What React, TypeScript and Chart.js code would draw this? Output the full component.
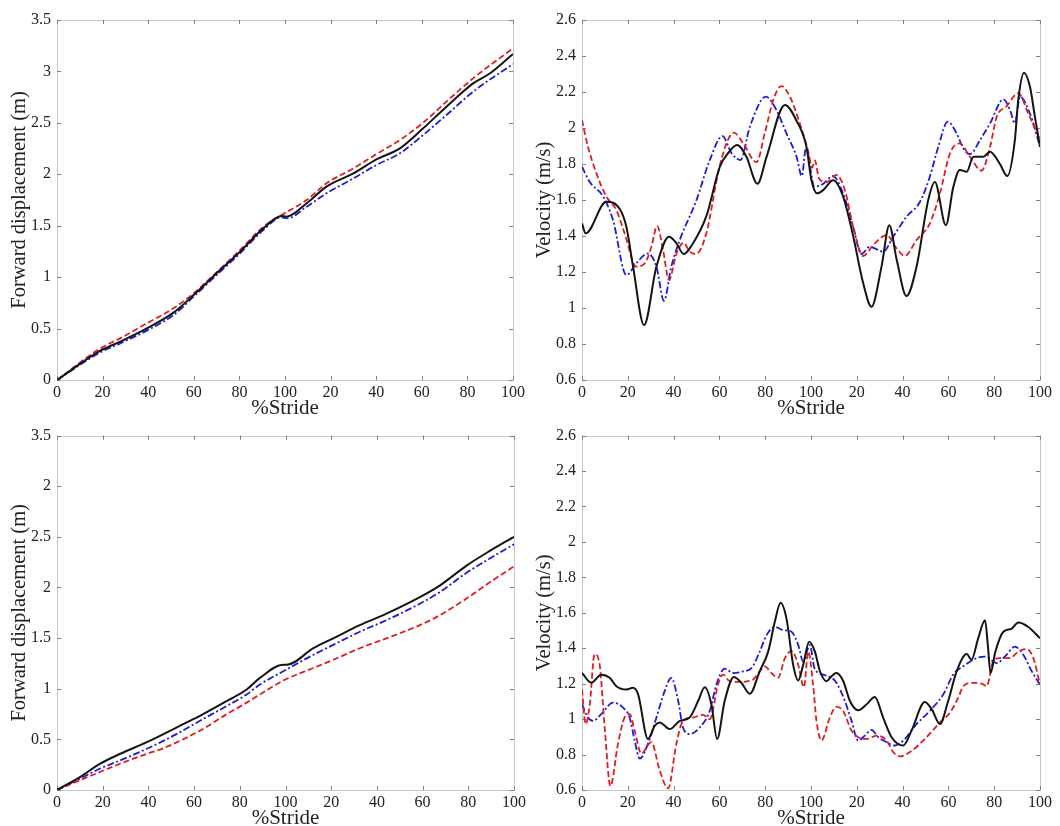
import React, { useEffect, useRef } from 'react';
import { Chart, registerables } from 'chart.js';

Chart.register(...registerables);

// ---------------- data ----------------
// x axis: two consecutive strides (0..200), labelled 0..100, 20..100
const X_MIN = 0;
const X_MAX = 200;
const X_STEP = 20;

const DISP_MIN = 0;
const DISP_MAX = 3.5;
const DISP_STEP = 0.5;
const DISP_TICKS_BOTTOM = ['0', '0.5', '1', '1.5', '2', '2.5', '2', '3.5'];

const VEL_MIN = 0.6;
const VEL_MAX = 2.6;
const VEL_STEP = 0.2;

// top-left: forward displacement
const dispTopBlackX = [0, 19, 27.7, 39.4, 51.1, 59.9, 70, 80.3, 90.5, 98.5, 100.7, 109.5, 118.2, 130, 140.1, 150.4, 160.6, 170.8, 182.5, 189.8, 200];
const dispTopBlackY = [0, 0.285, 0.373, 0.502, 0.655, 0.826, 1.037, 1.248, 1.475, 1.594, 1.588, 1.718, 1.88, 2.009, 2.145, 2.252, 2.447, 2.657, 2.884, 2.98, 3.17];
const dispTopRedX = [0, 19, 27.7, 39.4, 51.1, 59.9, 70, 80.3, 90.5, 98.5, 109.5, 118.2, 130, 140.1, 150.4, 160.6, 170.8, 182.5, 200];
const dispTopRedY = [0, 0.308, 0.405, 0.551, 0.697, 0.843, 1.047, 1.264, 1.49, 1.604, 1.75, 1.912, 2.058, 2.197, 2.333, 2.502, 2.706, 2.933, 3.225];
const dispTopBlueX = [0, 19, 27.7, 39.4, 51.1, 59.9, 70, 80.3, 90.5, 98.5, 101, 109.5, 118.2, 130, 140.1, 150.4, 160.6, 170.8, 182.5, 200];
const dispTopBlueY = [0, 0.269, 0.356, 0.48, 0.632, 0.81, 1.021, 1.232, 1.458, 1.581, 1.572, 1.685, 1.815, 1.96, 2.09, 2.204, 2.382, 2.576, 2.803, 3.072];

// top-right: velocity
const velTopBlackX = [0, 1.6, 10.6, 16.5, 19.4, 22.3, 27.1, 32.5, 38, 41.2, 44.4, 48.5, 54.3, 60.2, 63.8, 67.7, 71.8, 76.6, 80.6, 88.6, 93.7, 98, 100.2, 102.7, 105.3, 109.7, 114, 118.4, 122.8, 126.4, 130.8, 134.2, 137.4, 141.7, 146.1, 151.2, 154.1, 158.9, 162.1, 165, 168, 170.9, 175.2, 178.2, 182.5, 185.7, 189, 190.5, 193, 195.6, 197.8, 200];
const velTopBlackY = [1.47, 1.415, 1.59, 1.55, 1.45, 1.23, 0.905, 1.23, 1.396, 1.36, 1.3, 1.36, 1.51, 1.785, 1.86, 1.905, 1.84, 1.69, 1.84, 2.128, 2.04, 1.896, 1.71, 1.637, 1.655, 1.71, 1.62, 1.4, 1.137, 1.007, 1.23, 1.46, 1.27, 1.067, 1.23, 1.6, 1.7, 1.46, 1.67, 1.767, 1.757, 1.84, 1.84, 1.868, 1.8, 1.733, 1.93, 2.155, 2.307, 2.23, 2.06, 1.896];
const velTopRedX = [0, 2.6, 6.3, 10.6, 15, 18.6, 23.7, 27.4, 30.3, 32.8, 35.4, 38, 41.2, 44.4, 47, 49.7, 54.3, 59.4, 63.1, 66.3, 70.4, 76.2, 79.8, 83.5, 87.1, 90.8, 95.1, 98.8, 100.5, 101.7, 103.5, 106.8, 111.1, 114.8, 118.4, 122.8, 127.2, 133, 137.4, 141, 146.1, 151.9, 156.3, 160.7, 165, 169.4, 174.5, 178.2, 181.1, 185.4, 190.5, 194.9, 200];
const velTopRedY = [2.044, 1.896, 1.748, 1.62, 1.544, 1.415, 1.23, 1.248, 1.34, 1.456, 1.322, 1.155, 1.3, 1.363, 1.313, 1.3, 1.415, 1.748, 1.915, 1.974, 1.915, 1.81, 1.97, 2.155, 2.233, 2.174, 2.026, 1.87, 1.78, 1.82, 1.72, 1.7, 1.739, 1.655, 1.452, 1.289, 1.35, 1.405, 1.33, 1.289, 1.378, 1.47, 1.637, 1.859, 1.915, 1.84, 1.763, 1.896, 2.063, 2.12, 2.193, 2.08, 1.933];
const velTopBlueX = [0, 3.4, 9.2, 13.5, 19.4, 23.7, 28.8, 32.5, 35.8, 39, 42.7, 50, 55.8, 61.3, 65.3, 69.2, 73.3, 80.3, 84.9, 89.3, 93.7, 96, 97.8, 101.5, 105.4, 109.5, 114, 118.4, 122, 125.7, 129.4, 131.5, 135.9, 141.7, 147.6, 151.9, 155.6, 159.7, 163.6, 166.5, 169.4, 173.8, 178.2, 184, 186.9, 189, 191.3, 195.6, 200];
const velTopBlueY = [1.785, 1.7, 1.62, 1.49, 1.183, 1.248, 1.303, 1.23, 1.04, 1.23, 1.378, 1.6, 1.822, 1.955, 1.86, 1.822, 2.007, 2.174, 2.1, 1.97, 1.84, 1.733, 1.89, 1.674, 1.69, 1.733, 1.637, 1.452, 1.3, 1.34, 1.322, 1.313, 1.396, 1.507, 1.59, 1.73, 1.896, 2.035, 1.97, 1.887, 1.855, 1.933, 2.026, 2.159, 2.1, 2.026, 2.174, 2.08, 1.896];

// bottom-left: forward displacement
const dispBotBlackX = [0, 10.2, 18.9, 27.7, 39.3, 51, 56.8, 62.6, 74.3, 83, 88.8, 99, 100.5, 112.2, 120.9, 132.5, 144.2, 158.8, 167.5, 179.1, 189.4, 200];
const dispBotBlackY = [0, 0.13, 0.26, 0.358, 0.472, 0.602, 0.668, 0.733, 0.879, 0.993, 1.107, 1.237, 1.237, 1.4, 1.498, 1.628, 1.742, 1.905, 2.019, 2.214, 2.361, 2.501];
const dispBotRedX = [0, 10.2, 18.9, 27.7, 39.3, 46, 51, 62.6, 74.3, 83, 88.8, 99, 112.2, 120.9, 132.5, 144.2, 158.8, 167.5, 179.1, 189.4, 200];
const dispBotRedY = [0, 0.098, 0.179, 0.26, 0.358, 0.407, 0.456, 0.586, 0.749, 0.863, 0.944, 1.081, 1.205, 1.286, 1.4, 1.498, 1.628, 1.726, 1.889, 2.051, 2.208];
const dispBotBlueX = [0, 10.2, 18.9, 27.7, 39.3, 51, 62.6, 74.3, 83, 88.8, 99, 112.2, 120.9, 132.5, 144.2, 158.8, 167.5, 179.1, 189.4, 200];
const dispBotBlueY = [0, 0.114, 0.212, 0.293, 0.407, 0.537, 0.684, 0.83, 0.944, 1.042, 1.172, 1.335, 1.433, 1.563, 1.677, 1.84, 1.954, 2.143, 2.286, 2.426];

// bottom-right: velocity
const velBotBlackX = [0, 4.1, 8.4, 12.1, 15, 19.4, 22.3, 24.5, 28.8, 31.8, 33.9, 38.3, 42.7, 47, 50.7, 53.6, 56.5, 59, 62.3, 66.3, 69.6, 73.3, 77.6, 81.3, 84.2, 86.7, 89.3, 92.2, 94.4, 96.6, 99.2, 101.7, 103.9, 106.8, 109, 111.1, 114.1, 117, 120.6, 124.3, 127.9, 131.5, 135.2, 140.3, 143.9, 149.7, 152.7, 156.3, 159.9, 163.6, 168, 170.1, 173, 176, 177.2, 178.4, 180.5, 184, 187.6, 190.5, 194.9, 200];
const velBotBlackY = [1.26, 1.205, 1.251, 1.233, 1.186, 1.167, 1.177, 1.14, 0.888, 0.963, 0.981, 0.944, 0.99, 1.009, 1.102, 1.18, 1.084, 0.888, 1.102, 1.238, 1.205, 1.143, 1.27, 1.381, 1.549, 1.657, 1.567, 1.307, 1.218, 1.307, 1.437, 1.381, 1.27, 1.214, 1.242, 1.26, 1.214, 1.102, 1.05, 1.084, 1.125, 1.009, 0.898, 0.851, 0.935, 1.097, 1.056, 0.972, 1.102, 1.27, 1.367, 1.335, 1.456, 1.558, 1.42, 1.26, 1.38, 1.493, 1.51, 1.545, 1.52, 1.456];
const velBotRedX = [0, 1.6, 3.4, 5.5, 7.7, 9.9, 12.4, 15.7, 18.6, 20.8, 23, 25.9, 30.3, 33.9, 37.6, 41.2, 44.1, 48.5, 52.9, 55.8, 59.4, 61.6, 64.5, 68.9, 74.7, 77.6, 79.8, 82.7, 85.6, 88.6, 91.5, 94.4, 96.9, 98.8, 100.9, 102.4, 104.6, 108.2, 111.1, 114, 117.7, 120.6, 124.3, 128.6, 133, 135.9, 138.8, 143.2, 149, 156.3, 160.7, 164.3, 166.5, 170.9, 174.5, 176.7, 179.6, 182.5, 186.9, 190.5, 194.2, 197.1, 200];
const velBotRedY = [1.167, 0.972, 1.084, 1.367, 1.307, 0.953, 0.622, 0.86, 1.009, 1.028, 0.935, 0.805, 0.87, 0.712, 0.609, 0.86, 0.99, 1.009, 1.024, 1.0, 1.195, 1.251, 1.214, 1.21, 1.223, 1.27, 1.298, 1.26, 1.233, 1.344, 1.385, 1.307, 1.18, 1.381, 1.195, 0.99, 0.879, 1.009, 1.069, 1.047, 0.935, 0.898, 0.888, 0.907, 0.879, 0.814, 0.79, 0.814, 0.879, 0.981, 1.037, 1.121, 1.186, 1.205, 1.2, 1.186, 1.326, 1.344, 1.344, 1.381, 1.396, 1.344, 1.195];
const velBotBlueX = [0, 2.6, 4.8, 8.4, 13.5, 17.9, 20.8, 23, 25.2, 28.8, 32.5, 36.1, 39, 42, 44.1, 47, 51.4, 55.8, 58.7, 62.3, 66, 70.4, 74, 77.6, 80.6, 84.2, 87.8, 91.5, 94.4, 96.6, 99.5, 101.5, 105.3, 109, 111.1, 114.8, 117.7, 120.6, 123.5, 126.4, 129.4, 133, 136.6, 140.3, 146.1, 151.9, 157.8, 162.1, 166.5, 172.3, 176, 181.1, 185.4, 189, 192.7, 196.4, 200];
const velBotBlueY = [1.084, 1.009, 0.99, 1.028, 1.093, 1.065, 1.009, 0.879, 0.777, 0.86, 1.009, 1.158, 1.233, 1.102, 0.953, 0.916, 0.953, 1.047, 1.195, 1.285, 1.26, 1.27, 1.288, 1.381, 1.474, 1.521, 1.502, 1.493, 1.419, 1.326, 1.419, 1.288, 1.251, 1.233, 1.205, 1.102, 0.99, 0.879, 0.907, 0.939, 0.898, 0.87, 0.851, 0.879, 0.972, 1.047, 1.14, 1.251, 1.298, 1.344, 1.353, 1.316, 1.363, 1.409, 1.363, 1.27, 1.195];

// ---------------- styling ----------------
const FONT = "'Liberation Serif', 'Times New Roman', Times, serif";
const BLACK = '#141414';
const RED = '#e01c1c';
const BLUE = '#1a1ae0';

const toPoints = (xs: number[], ys: number[]) => xs.map((x, i) => ({ x, y: ys[i] }));

const framePlugin = {
  id: 'frame',
  beforeDatasetsDraw(chart: any) {
    const { ctx, chartArea } = chart;
    const { left, right, top, bottom } = chartArea;
    const xs = chart.scales.x;
    const ys = chart.scales.y;
    ctx.save();
    ctx.lineWidth = 1;
    ctx.strokeStyle = '#c8c8c8';
    ctx.strokeRect(Math.round(left) + 0.5, Math.round(top) + 0.5, Math.round(right - left), Math.round(bottom - top));
    ctx.strokeStyle = '#808080';
    const len = 4;
    ctx.beginPath();
    xs.ticks.forEach((t: any) => {
      const px = Math.round(xs.getPixelForValue(t.value)) + 0.5;
      ctx.moveTo(px, bottom);
      ctx.lineTo(px, bottom - len);
      ctx.moveTo(px, top);
      ctx.lineTo(px, top + len);
    });
    ys.ticks.forEach((t: any) => {
      const py = Math.round(ys.getPixelForValue(t.value)) + 0.5;
      ctx.moveTo(left, py);
      ctx.lineTo(left + len, py);
      ctx.moveTo(right, py);
      ctx.lineTo(right - len, py);
    });
    ctx.stroke();
    ctx.restore();
  },
};

type PanelSpec = {
  left: number;
  top: number;
  width: number;
  height: number;
  yWidth: number;
  xHeight: number;
  padTop: number;
  padRight: number;
  yTitle: string;
  yTitlePad: number;
  xTitlePadBottom: number;
  yMin: number;
  yMax: number;
  yStep: number;
  yLabel: (v: number, i: number) => string;
  series: { xs: number[]; ys: number[]; color: string; dash: number[]; width: number }[];
};

function Panel({ spec }: { spec: PanelSpec }) {
  const ref = useRef<HTMLCanvasElement | null>(null);
  useEffect(() => {
    if (!ref.current) return;
    const chart = new Chart(ref.current, {
      type: 'line',
      data: {
        datasets: spec.series.map((s) => ({
          data: toPoints(s.xs, s.ys),
          borderColor: s.color,
          borderWidth: s.width,
          borderDash: s.dash,
          pointRadius: 0,
          fill: false,
          cubicInterpolationMode: 'monotone' as const,
        })),
      },
      options: {
        responsive: false,
        animation: false,
        events: [],
        layout: { padding: { top: spec.padTop, right: spec.padRight, left: 0, bottom: 0 } },
        plugins: { legend: { display: false }, tooltip: { enabled: false } },
        scales: {
          x: {
            type: 'linear',
            min: X_MIN,
            max: X_MAX,
            grid: { display: false, drawTicks: false },
            border: { display: false },
            ticks: {
              stepSize: X_STEP,
              padding: 3,
              color: '#222',
              font: { family: FONT, size: 16 },
              maxRotation: 0,
              autoSkip: false,
              callback: (v: any) => String(Number(v) <= 100 ? Number(v) : Number(v) - 100),
            },
            title: {
              display: true,
              text: '%Stride',
              color: '#222',
              font: { family: FONT, size: 21 },
              padding: { top: 0, bottom: spec.xTitlePadBottom },
            },
            afterFit: (scale: any) => {
              scale.height = spec.xHeight;
            },
          },
          y: {
            type: 'linear',
            min: spec.yMin,
            max: spec.yMax,
            grid: { display: false, drawTicks: false },
            border: { display: false },
            ticks: {
              stepSize: spec.yStep,
              padding: 6,
              color: '#222',
              font: { family: FONT, size: 16 },
              autoSkip: false,
              callback: (v: any, i: number) => spec.yLabel(Number(v), i),
            },
            title: {
              display: true,
              text: spec.yTitle,
              color: '#222',
              font: { family: FONT, size: 20.5 },
              padding: { top: spec.yTitlePad, bottom: 0 },
            },
            afterFit: (scale: any) => {
              scale.width = spec.yWidth;
            },
          },
        },
      },
      plugins: [framePlugin],
    } as any);
    return () => chart.destroy();
  }, [spec]);
  return (
    <div style={{ position: 'absolute', left: spec.left, top: spec.top, width: spec.width, height: spec.height }}>
      <canvas ref={ref} width={spec.width} height={spec.height} style={{ display: 'block', width: spec.width, height: spec.height }} />
    </div>
  );
}

const fmt1 = (v: number) => String(Number(v.toFixed(1)));

const black = (xs: number[], ys: number[]) => ({ xs, ys, color: BLACK, dash: [], width: 2 });
const red = (xs: number[], ys: number[]) => ({ xs, ys, color: RED, dash: [6, 3], width: 1.8 });
const blue = (xs: number[], ys: number[]) => ({ xs, ys, color: BLUE, dash: [7, 2.5, 2, 2.5], width: 1.8 });

const PANELS: PanelSpec[] = [
  {
    left: 0, top: 0, width: 530, height: 420, yWidth: 57, xHeight: 40, padTop: 20, padRight: 17,
    yTitle: 'Forward displacement (m)', yTitlePad: 7, xTitlePadBottom: -1,
    yMin: DISP_MIN, yMax: DISP_MAX, yStep: DISP_STEP, yLabel: (v) => fmt1(v),
    series: [black(dispTopBlackX, dispTopBlackY), red(dispTopRedX, dispTopRedY), blue(dispTopBlueX, dispTopBlueY)],
  },
  {
    left: 530, top: 0, width: 530, height: 420, yWidth: 52, xHeight: 40, padTop: 20, padRight: 20,
    yTitle: 'Velocity (m/s)', yTitlePad: 2, xTitlePadBottom: -1,
    yMin: VEL_MIN, yMax: VEL_MAX, yStep: VEL_STEP, yLabel: (v) => fmt1(v),
    series: [black(velTopBlackX, velTopBlackY), red(velTopRedX, velTopRedY), blue(velTopBlueX, velTopBlueY)],
  },
  {
    left: 0, top: 420, width: 530, height: 406, yWidth: 57, xHeight: 36, padTop: 12, padRight: 16,
    yTitle: 'Forward displacement (m)', yTitlePad: 7, xTitlePadBottom: -5,
    yMin: DISP_MIN, yMax: DISP_MAX, yStep: DISP_STEP, yLabel: (_v, i) => DISP_TICKS_BOTTOM[i] ?? '',
    series: [black(dispBotBlackX, dispBotBlackY), red(dispBotRedX, dispBotRedY), blue(dispBotBlueX, dispBotBlueY)],
  },
  {
    left: 530, top: 420, width: 530, height: 406, yWidth: 52, xHeight: 36, padTop: 12, padRight: 20,
    yTitle: 'Velocity (m/s)', yTitlePad: 2, xTitlePadBottom: -5,
    yMin: VEL_MIN, yMax: VEL_MAX, yStep: VEL_STEP, yLabel: (v) => fmt1(v),
    series: [black(velBotBlackX, velBotBlackY), red(velBotRedX, velBotRedY), blue(velBotBlueX, velBotBlueY)],
  },
];

export default function App() {
  return (
    <div style={{ position: 'absolute', left: 0, top: 0, width: 1060, height: 826, overflow: 'hidden', background: '#fff' }}>
      {PANELS.map((p, i) => (
        <Panel key={i} spec={p} />
      ))}
    </div>
  );
}
